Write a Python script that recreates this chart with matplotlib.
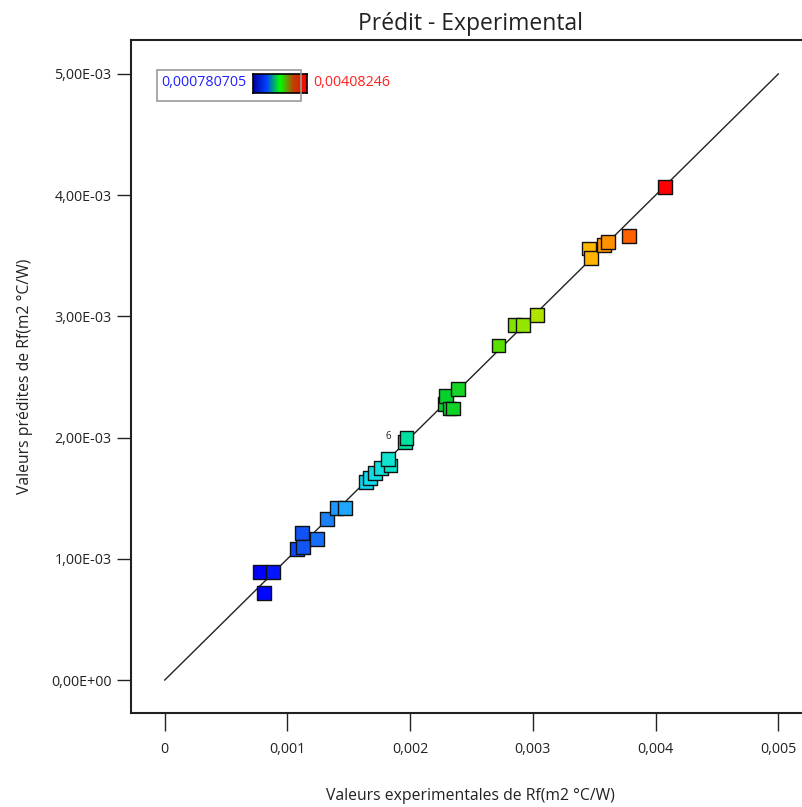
import matplotlib
matplotlib.use("Agg")
import matplotlib.pyplot as plt
import numpy as np
from matplotlib.colors import LinearSegmentedColormap, Normalize
from matplotlib.ticker import FuncFormatter

plt.rcParams['font.family'] = ['Open Sans', 'DejaVu Sans']

# Data: actual (experimental) vs predicted Rf values
actual = [0.000775, 0.00088, 0.000807, 0.00112, 0.00108, 0.00113, 0.00124,
          0.00132, 0.00140, 0.00147,
          0.00164, 0.00167, 0.00171, 0.00176, 0.00184, 0.00182, 0.00196, 0.00197,
          0.00228, 0.00229, 0.00232, 0.00235, 0.00239,
          0.00272, 0.00285, 0.00292, 0.00303,
          0.00346, 0.00347, 0.00358, 0.00361, 0.00378, 0.00408]
predicted = [0.000891, 0.000891, 0.000718, 0.00121, 0.00108, 0.00110, 0.00116,
             0.00133, 0.00142, 0.00142,
             0.00163, 0.00167, 0.00171, 0.00175, 0.00177, 0.00182, 0.00196, 0.00200,
             0.00228, 0.00234, 0.00224, 0.00224, 0.00240,
             0.00276, 0.00293, 0.00293, 0.00301,
             0.00356, 0.00348, 0.00359, 0.00361, 0.00366, 0.00407]
labelled_point = 16  # index of point annotated "6"
label_text = "6"
cmin, cmax = 0.000780705, 0.00408246
cmin_label, cmax_label = "0,000780705", "0,00408246"

xticks = [0, 0.001, 0.002, 0.003, 0.004, 0.005]
yticks = [0, 0.001, 0.002, 0.003, 0.004, 0.005]

cmap = LinearSegmentedColormap.from_list("de", [
    (0.00, "#0000ff"), (0.10, "#1050f4"), (0.20, "#20a0ff"), (0.26, "#10d8f0"),
    (0.31, "#10e4d4"), (0.36, "#00e0a0"), (0.45, "#00d030"), (0.58, "#50e000"),
    (0.67, "#a8e800"), (0.80, "#ffc000"), (0.86, "#ff9000"), (0.91, "#ff6000"),
    (1.00, "#ff0000")])
norm = Normalize(cmin, cmax)

fig = plt.figure(figsize=(8.02, 8.07), dpi=100)
ax = fig.add_axes([131/802, 1-713/807, (809-131)/802, (713-40)/807])

ax.plot([0, 0.005], [0, 0.005], color="#222222", lw=1.0, zorder=2)
ax.scatter(actual, predicted, c=[cmap(norm(v)) for v in actual], marker='s', s=100,
           edgecolors="#111111", linewidths=1.0, zorder=3)
ax.annotate(label_text, (actual[labelled_point], predicted[labelled_point]),
            xytext=(-12, 0), textcoords='offset points', fontsize=7,
            ha='center', va='bottom', color="#222222")

ax.set_xlim(-0.000275, 0.00525)
ax.set_ylim(-0.000272, 0.00528)
ax.set_xticks(xticks)
ax.set_yticks(yticks)
ax.xaxis.set_major_formatter(FuncFormatter(lambda v, p: "0" if v == 0 else f"{v:.3f}".replace(".", ",")))
ax.yaxis.set_major_formatter(FuncFormatter(lambda v, p: f"{v:.2E}".replace(".", ",")))
ax.tick_params(axis='x', length=13, width=1.0, pad=8, labelsize=10.3, colors="#222222")
ax.tick_params(axis='y', length=10, width=1.0, pad=4, labelsize=10.3, colors="#222222")
for s in ['left', 'bottom', 'top']:
    ax.spines[s].set_linewidth(1.5)
    ax.spines[s].set_color("#222222")
ax.spines['right'].set_visible(False)

ax.set_title("Prédit - Experimental", fontsize=16.5, pad=7, color="#222222")
ax.set_xlabel("Valeurs experimentales de Rf(m2 °C/W)", fontsize=11.3, labelpad=22, color="#222222")
ax.set_ylabel("Valeurs prédites de Rf(m2 °C/W)", fontsize=11.3, labelpad=13, color="#222222")

# legend box with gradient
fig.patches.append(plt.Rectangle((157/802, 1-101/807), (301-157)/802, 31/807,
                                 transform=fig.transFigure, fill=False,
                                 edgecolor="#999999", lw=1.2))
fig.text(161/802, 1-83/807, cmin_label, color="#2020ff", fontsize=10.3, va='center', ha='left')
fig.text(313/802, 1-83/807, cmax_label, color="#ff2020", fontsize=10.3, va='center', ha='left')
cax = fig.add_axes([253/802, 1-93/807, (307-253)/802, 19/807])
grad = LinearSegmentedColormap.from_list("g", ["#0000a0", "#0040ff", "#00ff00", "#c04000", "#ff0000"])
cax.imshow(np.linspace(0, 1, 256)[None, :], aspect='auto', cmap=grad)
cax.set_xticks([]); cax.set_yticks([])
for s in cax.spines.values():
    s.set_linewidth(1.2)

fig.savefig("out.png", dpi=100)
